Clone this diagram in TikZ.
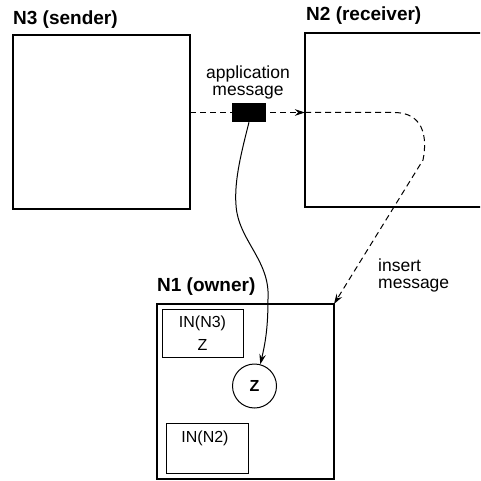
\documentclass[tikz,border=0pt]{standalone}
\usepackage{fontspec}
\setmainfont{Liberation Sans}
\usetikzlibrary{arrows.meta}
\begin{document}
\begin{tikzpicture}[x=1pt,y=-1pt,
  host/.style={draw,line width=2.4pt,inner sep=0pt,outer sep=0pt},
  inbox/.style={draw,line width=1pt,inner sep=0pt,outer sep=0pt},
  title/.style={font=\bfseries\fontsize{19}{19}\selectfont,anchor=base west,inner sep=0pt},
  txt/.style={font=\fontsize{17.5}{17}\selectfont,align=center,inner sep=0pt},
  small/.style={font=\fontsize{16}{23}\selectfont,align=center,inner sep=0pt},
  flow/.style={line width=1pt,dash pattern=on 6pt off 4pt},
  tip/.style={-{Stealth[length=10pt,width=6.5pt]}}]
  \clip (0,0) rectangle (480,481);
  \path[use as bounding box] (0,0) rectangle (480,481);

  % hosts
  \node[host,minimum width=177pt,minimum height=174pt] (n3) at (101.5,122) {};
  \node[host,minimum width=185pt,minimum height=174pt] (n2) at (397.5,120) {};
  \node[host,minimum width=177pt,minimum height=175pt] (n1) at (245.5,391.5) {};

  \node[title] (n3t) at (13,25) {N3 (sender)};
  \node[title] (n2t) at (306,21) {N2 (receiver)};
  \node[title] (n1t) at (157,291) {N1 (owner)};

  % contents of the owner
  \node[inbox,small,minimum width=81pt,minimum height=48pt] (in3) at (202.5,333) {IN(N3)\\Z};
  \node[inbox,minimum width=82pt,minimum height=50pt] (in2) at (207,448) {};
  \node[small] (in2t) at (205,438) {IN(N2)};
  \node[draw,circle,line width=1pt,minimum size=44pt,inner sep=0pt,
        font=\bfseries\fontsize{16}{16}\selectfont] (z) at (254.5,386) {Z};

  % the application message in transit
  \node[txt] (appt) at (248,82) {application\\message};
  \coordinate (a0) at (n3.east |- 0,112.5);
  \coordinate (a1) at (n2.west |- 0,112.5);
  \draw[flow,tip] (a0) -- (a1);
  \node[fill=black,minimum width=34pt,minimum height=19pt,inner sep=0pt] (msg) at (249,112.5) {};

  % forwarded copy to the owner
  \coordinate (b1) at (395,112.5);
  \coordinate (b2) at (423,160);
  \draw[flow,tip] (a1) -- (b1) .. controls (422,113) and (428,135) .. (b2) -- (n1.north east);
  \node[txt,align=left,anchor=north west] (inst) at (378,259) {insert\\message};

  % delivery of the message into the owner
  \coordinate (c1) at (236,205);
  \coordinate (c2) at (268,298);
  \draw[line width=1pt,tip] (msg.south) .. controls (242,150) and (234,180) .. (c1)
    .. controls (238,240) and (270,260) .. (c2)
    .. controls (268,325) and (266,340) .. (z.75);
\end{tikzpicture}
\end{document}
